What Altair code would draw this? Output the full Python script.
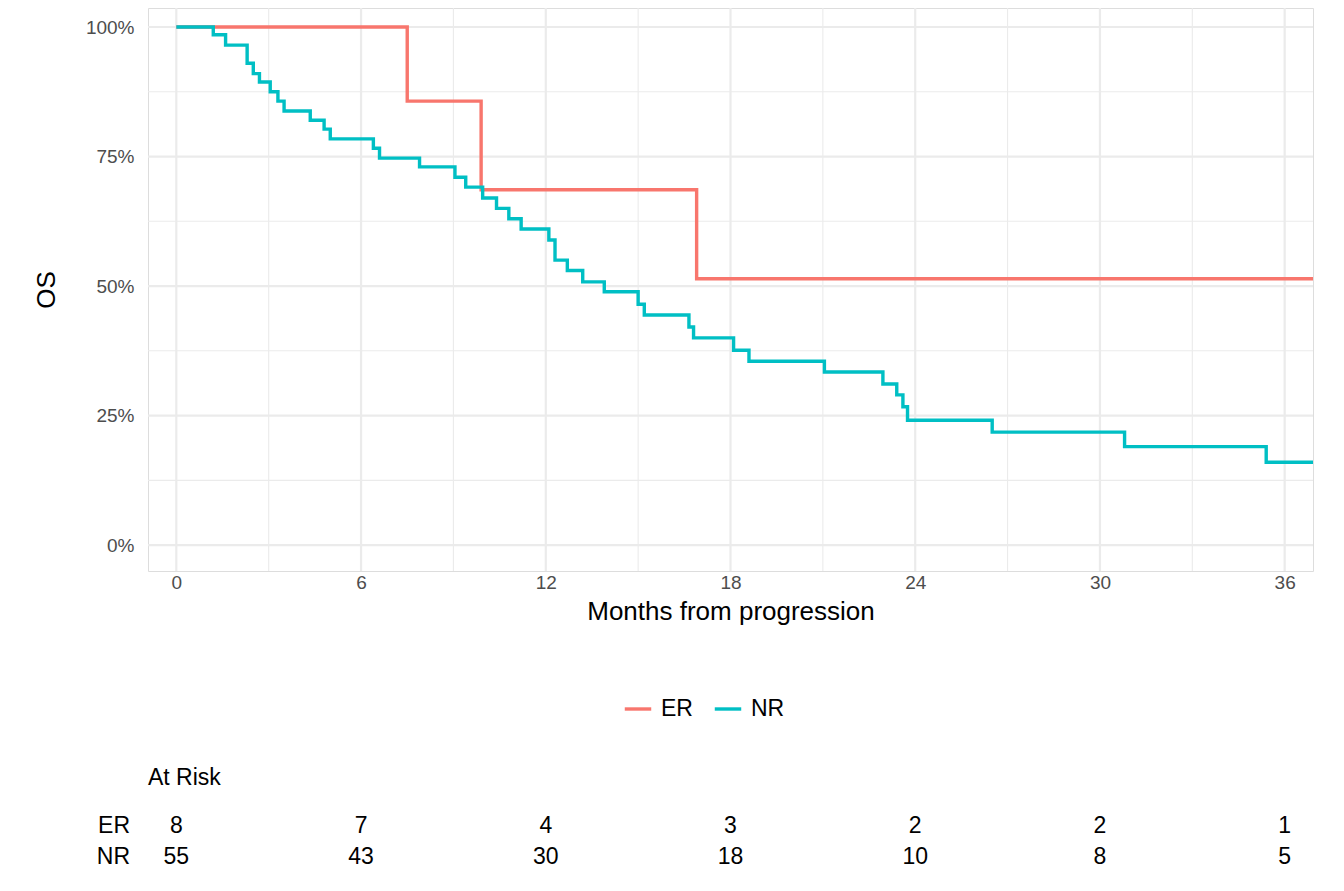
import altair as alt
import pandas as pd

er_t = [0, 7.5, 9.9, 16.9, 36.92]
er_s = [1.0, 0.857, 0.686, 0.514, 0.514]
nr_t = [0, 1.2, 1.6, 2.3, 2.5, 2.7, 3.05, 3.3, 3.5, 4.35, 4.8, 5.0, 6.4, 6.6, 7.9, 9.05, 9.4, 9.95, 10.4, 10.8, 11.2,
        12.1, 12.3, 12.7, 13.2, 13.9, 15.0, 15.2, 16.65, 16.8, 18.1, 18.6, 21.05, 22.95, 23.4, 23.6, 23.75, 26.5, 30.8, 35.4, 36.92]
nr_s = [1.0, 0.985, 0.965, 0.93, 0.91, 0.894, 0.875, 0.857, 0.838, 0.82, 0.803, 0.784, 0.766, 0.747, 0.73, 0.71, 0.691, 0.67, 0.65, 0.63, 0.61,
        0.589, 0.55, 0.53, 0.508, 0.489, 0.465, 0.444, 0.421, 0.40, 0.376, 0.355, 0.334, 0.311, 0.29, 0.267, 0.241, 0.218, 0.19, 0.16, 0.16]
risk_times = [0, 6, 12, 18, 24, 30, 36]
risk_er = [8, 7, 4, 3, 2, 2, 1]
risk_nr = [55, 43, 30, 18, 10, 8, 5]

df = pd.concat([pd.DataFrame({"t": er_t, "s": er_s, "g": "ER"}),
                pd.DataFrame({"t": nr_t, "s": nr_s, "g": "NR"})])
XD = [-0.92, 36.92]
YD = [-0.05, 1.0367]
xs = alt.Scale(domain=XD, nice=False, zero=False)
ys = alt.Scale(domain=YD, nice=False, zero=False)
GRID = "#EBEBEB"
FONT = "Liberation Sans"

vmaj = pd.DataFrame({"v": [0, 6, 12, 18, 24, 30, 36]})
vmin = pd.DataFrame({"v": [3, 9, 15, 21, 27, 33]})
hmaj = pd.DataFrame({"v": [0, 0.25, 0.5, 0.75, 1.0]})
hmin = pd.DataFrame({"v": [0.125, 0.375, 0.625, 0.875]})

gv1 = alt.Chart(vmaj).mark_rule(color=GRID, strokeWidth=2.2).encode(x=alt.X("v:Q", scale=xs))
gv2 = alt.Chart(vmin).mark_rule(color=GRID, strokeWidth=1.1).encode(x=alt.X("v:Q", scale=xs))
gh1 = alt.Chart(hmaj).mark_rule(color=GRID, strokeWidth=2.2).encode(y=alt.Y("v:Q", scale=ys))
gh2 = alt.Chart(hmin).mark_rule(color=GRID, strokeWidth=1.1).encode(y=alt.Y("v:Q", scale=ys))

lines = alt.Chart(df).mark_line(interpolate="step-after", strokeWidth=3.4).encode(
    x=alt.X("t:Q", scale=xs, title="Months from progression",
            axis=alt.Axis(values=risk_times, grid=False, domain=False, ticks=False, labelFontSize=19,
                          labelColor="#4D4D4D", labelFont=FONT, labelPadding=2, titleFont=FONT,
                          titleFontSize=26, titleFontWeight="normal", titleColor="black", titlePadding=6)),
    y=alt.Y("s:Q", scale=ys, title="OS",
            axis=alt.Axis(values=[0, 0.25, 0.5, 0.75, 1.0], format=".0%", grid=False, domain=False, ticks=False,
                          labelFontSize=19, labelColor="#4D4D4D", labelFont=FONT, labelPadding=14,
                          titleFont=FONT, titleFontSize=26, titleFontWeight="normal", titleColor="black",
                          titlePadding=26)),
    color=alt.Color("g:N", scale=alt.Scale(domain=["ER", "NR"], range=["#F8766D", "#00BFC4"]),
                    legend=alt.Legend(title=None, orient="none", direction="horizontal", legendX=475,
                                      legendY=686, symbolType="stroke", symbolStrokeWidth=3.4,
                                      symbolSize=700, labelFontSize=23, labelFont=FONT, labelColor="black",
                                      columnPadding=14, labelOffset=8)),
)

rdf = pd.DataFrame({"t": risk_times * 2, "n": risk_er + risk_nr,
                    "row": ["ER"] * 7 + ["NR"] * 7})
txt_er = alt.Chart(rdf[rdf.row == "ER"]).mark_text(fontSize=23, font=FONT, color="black", baseline="middle").encode(
    x=alt.X("t:Q", scale=xs), y=alt.value(818), text="n:Q")
txt_nr = alt.Chart(rdf[rdf.row == "NR"]).mark_text(fontSize=23, font=FONT, color="black", baseline="middle").encode(
    x=alt.X("t:Q", scale=xs), y=alt.value(849), text="n:Q")
labs = pd.DataFrame({"lab": ["ER", "NR"], "yy": [818, 849]})
rowlab = alt.Chart(labs).mark_text(fontSize=23, font=FONT, color="black", align="right", baseline="middle").encode(
    x=alt.value(-18), y=alt.Y("yy:Q", scale=None), text="lab:N")
atrisk = alt.Chart(pd.DataFrame({"lab": ["At Risk"]})).mark_text(
    fontSize=23, font=FONT, color="black", align="left", baseline="middle").encode(
    x=alt.value(0), y=alt.value(770), text="lab:N")

chart = alt.layer(gv2, gh2, gv1, gh1, lines, txt_er, txt_nr, rowlab, atrisk).properties(
    width=1165, height=563,
    autosize=alt.AutoSizeParams(type="none"),
    padding={"left": 140, "top": 0, "right": 20, "bottom": 300},
).configure_view(stroke="transparent", clip=False).configure(background="white")

chart.save("out.html", embed_options={"renderer": "svg", "actions": False})
